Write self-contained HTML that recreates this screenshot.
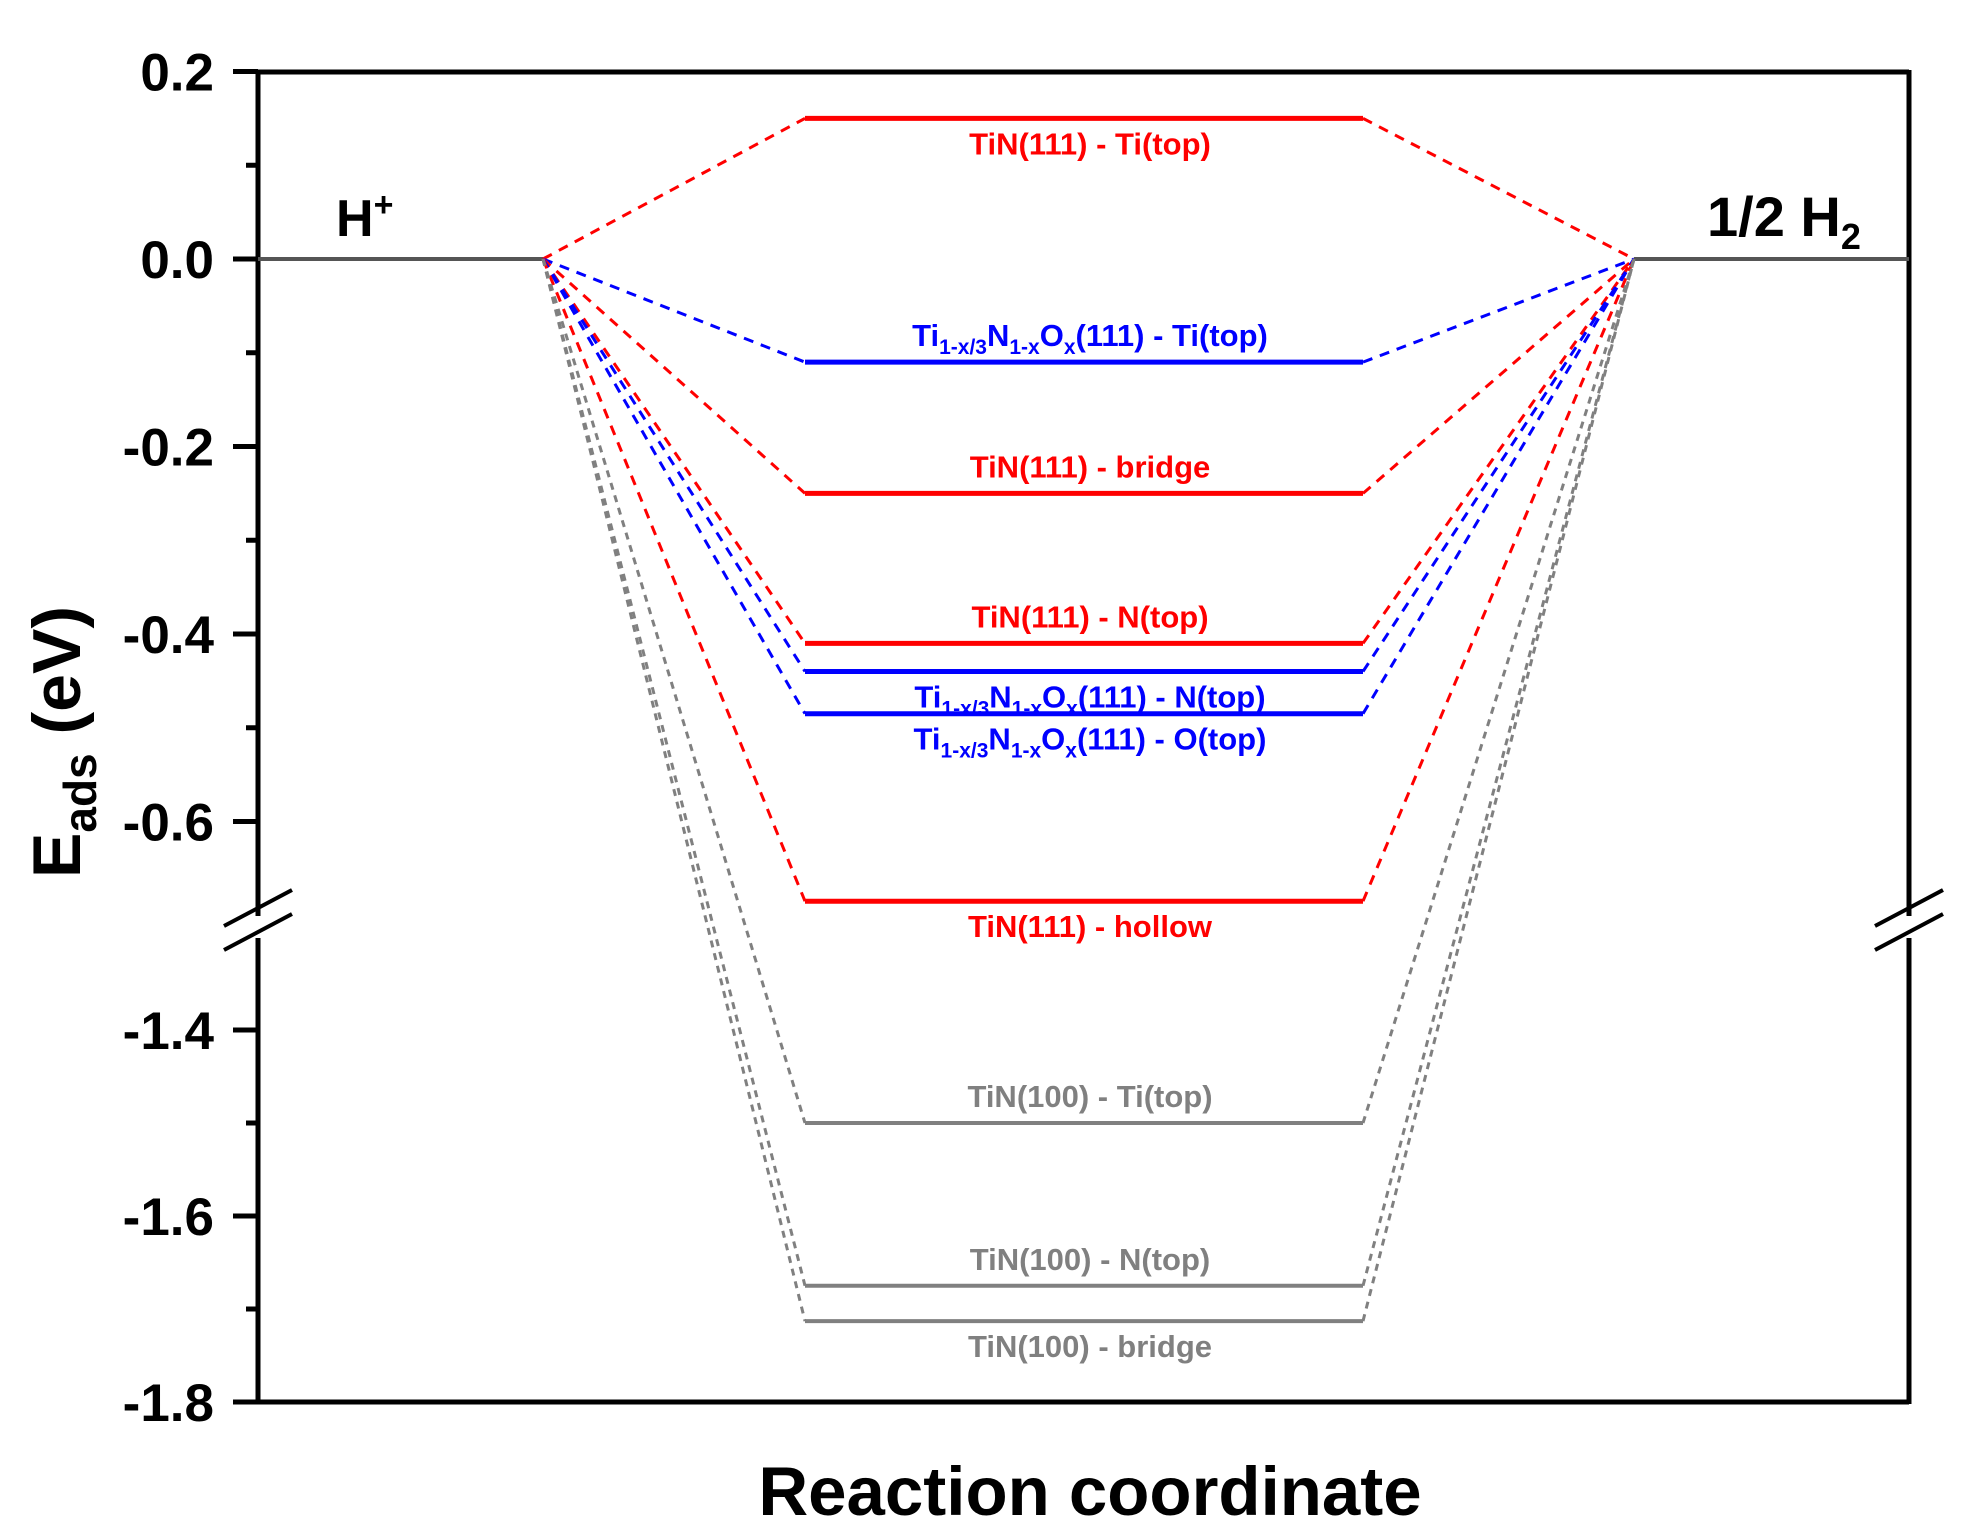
<!DOCTYPE html>
<html><head><meta charset="utf-8">
<style>
html,body{margin:0;padding:0;background:#fff;}
svg{display:block;font-family:"Liberation Sans",Arial,sans-serif;font-weight:bold;}
</style></head>
<body>
<svg id="chart" width="1963" height="1535" viewBox="0 0 1963 1535" xmlns="http://www.w3.org/2000/svg">
<g id="plot"></g>
</svg>
<script>
// data
const levelNames = ["TiN(111) - Ti(top)","Ti1-x/3N1-xOx(111) - Ti(top)","TiN(111) - bridge","TiN(111) - N(top)","Ti1-x/3N1-xOx(111) - N(top)","Ti1-x/3N1-xOx(111) - O(top)","TiN(111) - hollow","TiN(100) - Ti(top)","TiN(100) - N(top)","TiN(100) - bridge"];
const levelValues = [0.15,-0.11,-0.25,-0.41,-0.44,-0.485,-0.685,-1.50,-1.675,-1.713];
const levelSeries = ["red","blue","red","red","blue","blue","red","gray","gray","gray"];
const labelSide = ["below","above","above","above","below","below","below","above","above","below"];
const upperTicks = [0.2,0.0,-0.2,-0.4,-0.6];
const lowerTicks = [-1.4,-1.6,-1.8];
const upperMinor = [0.1,-0.1,-0.3,-0.5];
const lowerMinor = [-1.5,-1.7];

const colors = {red:"#ff0000",blue:"#0000ff",gray:"#808080"};
const X0=258,X1=1909,Y0=72,YB=1402;
// broken axis
function yScale(v){
  if(v>=-0.72) return 259 + (0 - v)*937.5;
  return 1402 - (v + 1.8)*930;
}
const svg=document.getElementById('plot');
const NS="http://www.w3.org/2000/svg";
function el(tag,attrs,parent){const e=document.createElementNS(NS,tag);for(const k in attrs)e.setAttribute(k,attrs[k]);(parent||svg).appendChild(e);return e;}

// frame
const breakY=924;
let a=el('line',{x1:X0,y1:Y0,x2:X1,y2:Y0,stroke:'#000','stroke-width':5});


a=el('line',{x1:X0,y1:YB,x2:X1,y2:YB,stroke:'#000','stroke-width':5});


[[X0,'left'],[X1,'right']].forEach(([x,s])=>{
  let l=el('line',{x1:x,y1:Y0-2,x2:x,y2:breakY-8,stroke:'#000','stroke-width':5});
  
  
  l=el('line',{x1:x,y1:breakY+14,x2:x,y2:YB+2,stroke:'#000','stroke-width':5});
  
  
  for(const d of [0,24]){
    l=el('line',{x1:x-34,y1:breakY+12+d-24+14,x2:x+34,y2:breakY-12+d-24+2,stroke:'#000','stroke-width':4});
    
    
  }
});
// ticks
upperTicks.concat(lowerTicks).forEach(v=>{
  const y=yScale(v);
  let t=el('line',{x1:X0-25,y1:y,x2:X0,y2:y,stroke:'#000','stroke-width':5});
  
  
  t=el('text',{x:X0-44,y:y+19,'text-anchor':'end','font-size':53,fill:'#000'});
  t.textContent=v.toFixed(1);
  
  
});
upperMinor.concat(lowerMinor).forEach(v=>{
  const y=yScale(v);
  const t=el('line',{x1:X0-12,y1:y,x2:X0,y2:y,stroke:'#000','stroke-width':5});
  
  
});
// reference states
const y0=yScale(0);
const LX=543, RX=1634, BL=805, BR=1363;
let r=el('line',{x1:X0,y1:y0,x2:LX,y2:y0,stroke:'#555','stroke-width':4});


r=el('line',{x1:RX,y1:y0,x2:X1,y2:y0,stroke:'#555','stroke-width':4});


let t=el('text',{x:336,y:236,'font-size':52,fill:'#000'});
t.innerHTML='H<tspan dy="-20" font-size="34">+</tspan>';


t=el('text',{x:1707,y:236,'font-size':56,fill:'#000'});
t.innerHTML='1/2 H<tspan dy="13" font-size="36">2</tspan>';



function labelHTML(name){
  if(name.startsWith('Ti1-x/3')){
    const rest=name.replace('Ti1-x/3N1-xOx','');
    return 'Ti<tspan dy="8" font-size="21">1-x/3</tspan><tspan dy="-8">N</tspan><tspan dy="8" font-size="21">1-x</tspan><tspan dy="-8">O</tspan><tspan dy="8" font-size="21">x</tspan><tspan dy="-8">'+rest+'</tspan>';
  }
  return name;
}
levelValues.forEach((v,i)=>{
  const y=yScale(v), c=colors[levelSeries[i]];
  const dash=levelSeries[i]==='gray'?'7,6':'10,8';
  let l=el('line',{x1:LX,y1:y0,x2:BL,y2:y,stroke:c,'stroke-width':3,'stroke-dasharray':dash});
  
  
  l=el('line',{x1:BR,y1:y,x2:RX,y2:y0,stroke:c,'stroke-width':3,'stroke-dasharray':dash});
  
  
  l=el('line',{x1:BL,y1:y,x2:BR,y2:y,stroke:c,'stroke-width':levelSeries[i]==='gray'?4:5});
  
  
  const ly = labelSide[i]==='above' ? y-16 : y+36;
  const tx=el('text',{x:1090,y:ly,'text-anchor':'middle','font-size':31,fill:c});
  tx.innerHTML=labelHTML(levelNames[i]);
  
  
});
// axis titles
t=el('text',{x:1090,y:1515,'text-anchor':'middle','font-size':69,fill:'#000'});
t.textContent='Reaction coordinate';


t=el('text',{x:0,y:0,'text-anchor':'middle','font-size':68,fill:'#000',transform:'translate(80,742) rotate(-90)'});
t.innerHTML='E<tspan dy="16" font-size="46">ads</tspan><tspan dy="-16"> (eV)</tspan>';


</script>
</body></html>
